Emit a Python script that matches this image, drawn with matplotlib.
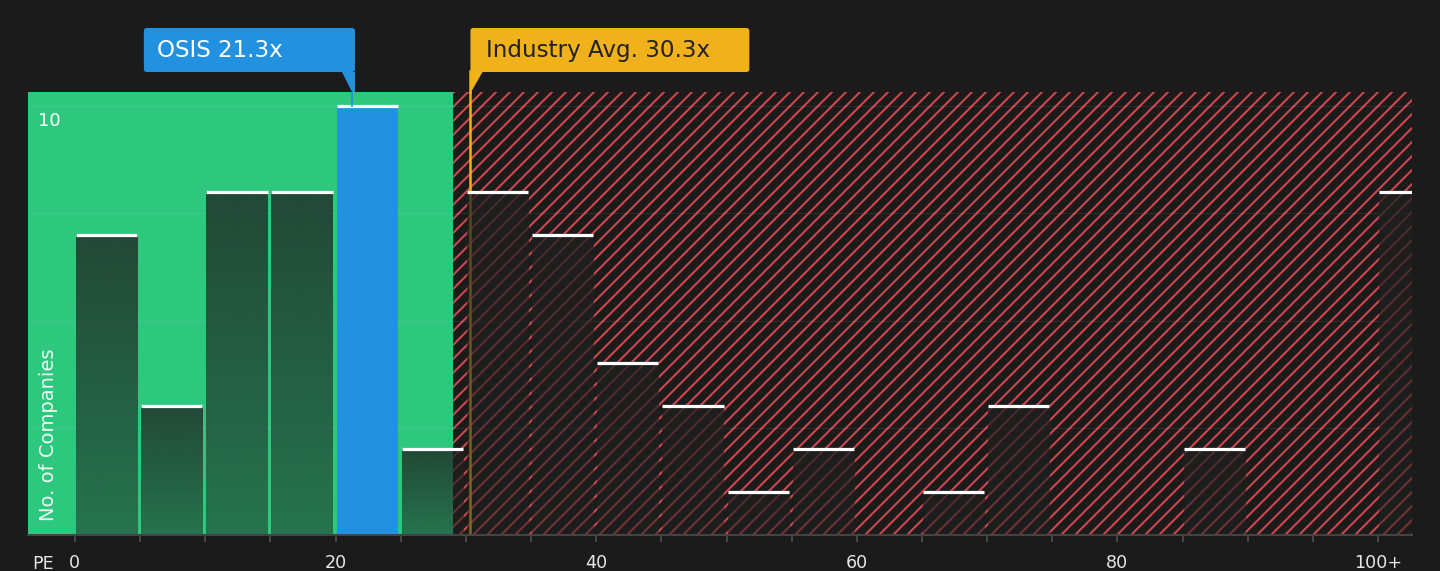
import numpy as np
import matplotlib
matplotlib.use("Agg")
import matplotlib.pyplot as plt
from matplotlib.patches import FancyBboxPatch, Polygon
from matplotlib.transforms import blended_transform_factory

# ---------------- data ----------------
bin_left = list(range(0, 101, 5))
counts = [7, 3, 8, 8, 10, 2, 8, 7, 4, 3, 1, 2, 0, 1, 3, 0, 0, 2, 0, 0, 8]
bin_width = 5
osis_pe = 21.3
industry_pe = 30.3
fair_upper = 29.0
xtick_major = [0, 20, 40, 60, 80, 100]
xtick_labels = ["0", "20", "40", "60", "80", "100+"]
ytick_vals = [2.5, 5, 7.5, 10]
osis_label = "OSIS 21.3x"
industry_label = "Industry Avg. 30.3x"

# ---------------- style ----------------
DPI = 84
def pt(px):
    return px * 72.0 / DPI

BG = "#1b1b1b"
GREEN = "#2ec77e"
RED = "#cc474d"
BLUE = "#2191e0"
GOLD = "#f0b11b"

plt.rcParams["font.family"] = ["DejaVu Sans"]
plt.rcParams["hatch.linewidth"] = pt(2.1)
plt.rcParams["hatch.color"] = RED

fig = plt.figure(figsize=(1440 / DPI, 571 / DPI), dpi=DPI, facecolor=BG)
ax = fig.add_axes([28 / 1440, 36 / 571, 1384 / 1440, 443 / 571])
ax.set_facecolor(BG)

xmin, xmax = -3.6, 102.6
ymin, ymax = 0, 10.33

# backgrounds
ax.axvspan(xmin, fair_upper, color=GREEN, lw=0, zorder=0)
ax.axvspan(fair_upper, xmax, facecolor=BG, edgecolor=RED, hatch="//", lw=0, zorder=0)

# gridlines
for yv in ytick_vals:
    ax.axhline(yv, color="white", alpha=0.08, lw=pt(1.2), zorder=1)

# industry line (under bar overlays)
ax.axvline(industry_pe, color=GOLD, lw=pt(2.5), zorder=2)

# bars
bar_pad_l, bar_pad_r = 0.08, 0.22
N = 256
alpha_grad = np.linspace(0.5, 0.76, N)
ov = np.zeros((N, 1, 4))
ov[..., 0] = 30 / 255
ov[..., 1] = 32 / 255
ov[..., 2] = 31 / 255
ov[:, 0, 3] = alpha_grad
for left, c in zip(bin_left, counts):
    if c <= 0:
        continue
    x0 = left + bar_pad_l
    x1 = left + bin_width - bar_pad_r
    if left <= osis_pe < left + bin_width:
        ax.bar(x0, c, width=x1 - x0, align="edge", color=BLUE, lw=0, zorder=3)
    else:
        ax.imshow(ov, extent=[x0, x1, 0, c], origin="lower", aspect="auto",
                  interpolation="bilinear", zorder=3)
    ax.plot([x0, x1], [c, c], color="white", lw=pt(3.2), solid_capstyle="butt", zorder=4)

ax.set_xlim(xmin, xmax)
ax.set_ylim(ymin, ymax)
ax.set_aspect("auto")

# axes styling
for s in ["left", "right", "top"]:
    ax.spines[s].set_visible(False)
ax.spines["bottom"].set_color("#444444")
ax.spines["bottom"].set_linewidth(pt(2))
ax.spines["bottom"].set_zorder(5)
ax.set_yticks([])
ax.set_xticks(range(0, 101, 5))
ax.set_xticklabels([xtick_labels[xtick_major.index(v)] if v in xtick_major else "" for v in range(0, 101, 5)])
ax.tick_params(axis="x", colors="#555555", length=pt(7), width=pt(1.5), pad=pt(12.5),
               labelsize=pt(17.5), labelcolor="#e6e6e6")

ax.text(-3.3, -0.67, "PE", color="#e6e6e6", fontsize=pt(17.5), ha="left", va="center",
        transform=ax.transData, clip_on=False)
ax.text(-2.85, 9.65, "10", color="white", fontsize=pt(18), ha="left", va="center", zorder=6)
ax.text(-2.05, 0.33, "No. of Companies", color="white", alpha=0.92, fontsize=pt(19.5),
        rotation=90, ha="center", va="bottom", zorder=6)

# annotation boxes
tr = blended_transform_factory(ax.transData, ax.transAxes)
box_y0, box_y1 = 1.0451, 1.1445
# OSIS
ob_x1 = osis_pe + 0.19
ob_x0 = ob_x1 - 16.2
osis_box = FancyBboxPatch((ob_x0, box_y0), ob_x1 - ob_x0, box_y1 - box_y0,
                          boxstyle="round,pad=0,rounding_size=0.25", transform=tr,
                          facecolor=BLUE, edgecolor="none", clip_on=False, zorder=7,
                          mutation_aspect=0.02)
ax.add_patch(osis_box)
ax.add_patch(Polygon([(osis_pe - 0.82, box_y0 + 0.001), (ob_x1, box_y0 + 0.001), (ob_x1, 1.0), (osis_pe, 1.0)],
                     closed=True, transform=tr, facecolor=BLUE, edgecolor="none", clip_on=False, zorder=7))
ax.plot([osis_pe, osis_pe], [ymax, counts[bin_left.index(20)]], color=BLUE, lw=pt(2), alpha=0.85, zorder=4)
ax.text(ob_x0 + 1.0, 1.0948, osis_label, transform=tr, color="white", fontsize=pt(23),
        ha="left", va="center", zorder=8, clip_on=False)

# Industry
ib_x0 = industry_pe + 0.05
ib_x1 = ib_x0 + 21.4
ind_box = FancyBboxPatch((ib_x0, box_y0), ib_x1 - ib_x0, box_y1 - box_y0,
                         boxstyle="round,pad=0,rounding_size=0.25", transform=tr,
                         facecolor=GOLD, edgecolor="none", clip_on=False, zorder=7,
                         mutation_aspect=0.02)
ax.add_patch(ind_box)
ax.add_patch(Polygon([(ib_x0, box_y0 + 0.001), (ib_x0 + 0.95, box_y0 + 0.001), (industry_pe + 0.1, 1.0), (ib_x0, 1.0)],
                     closed=True, transform=tr, facecolor=GOLD, edgecolor="none", clip_on=False, zorder=7))
ax.plot([industry_pe, industry_pe], [1.0, box_y0 + 0.002], transform=tr, color=GOLD, lw=pt(2.5),
        clip_on=False, zorder=7)
ax.text(ib_x0 + 1.2, 1.0948, industry_label, transform=tr, color="#222222", fontsize=pt(23),
        ha="left", va="center", zorder=8, clip_on=False)

fig.savefig("out.png", dpi=DPI, facecolor=BG)
